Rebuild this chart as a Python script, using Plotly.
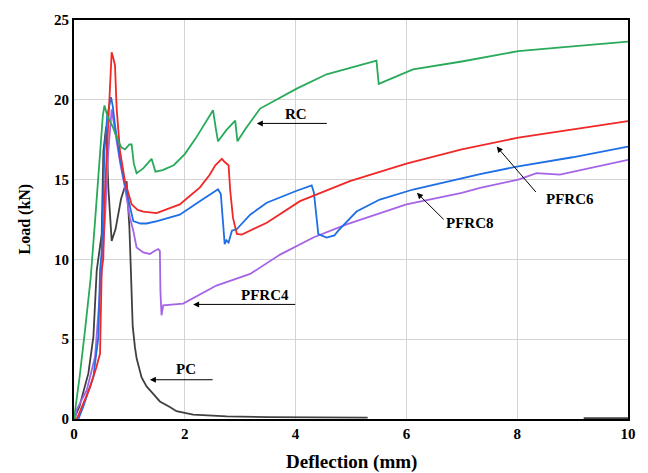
import plotly.graph_objects as go

# ---------------- data ----------------
rc_x = [0, 0.1, 0.2, 0.3, 0.38, 0.46, 0.52, 0.55, 0.6, 0.7, 0.8, 0.86, 0.92, 1.0, 1.04,
        1.08, 1.13, 1.25, 1.4, 1.47, 1.6, 1.8, 2.0, 2.2, 2.4, 2.51, 2.56, 2.6, 2.75, 2.91,
        2.95, 3.1, 3.36, 3.7, 4.02, 4.56, 5.0, 5.46, 5.5, 6.12, 7.0, 7.33, 8.02, 9.0, 10]
rc_y = [0, 2.6, 5.6, 8.8, 12.4, 16.1, 19.0, 19.65, 19.0, 18.3, 17.4, 17.0, 16.9, 17.2, 17.2,
        16.0, 15.4, 15.7, 16.3, 15.5, 15.6, 15.9, 16.6, 17.6, 18.7, 19.35, 18.2, 17.4, 18.1, 18.7,
        17.4, 18.2, 19.45, 20.1, 20.7, 21.6, 22.0, 22.45, 21.0, 21.9, 22.4, 22.6, 23.05, 23.35, 23.65]

pfrc6_x = [0.05, 0.15, 0.29, 0.4, 0.47, 0.5, 0.53, 0.55, 0.59, 0.63, 0.68, 0.71, 0.74, 0.77,
           0.83, 0.92, 1.04, 1.15, 1.25, 1.49, 1.73, 1.91, 2.1, 2.27, 2.45, 2.55, 2.67, 2.72,
           2.79, 2.82, 2.87, 2.94, 3.03, 3.48, 4.08, 4.98, 6.0, 7.0, 8.02, 9.0, 10]
pfrc6_y = [0, 0.8, 2.0, 3.2, 4.1, 9.3, 10.1, 13.6, 16.8, 20.0, 22.98, 22.6, 22.15, 19.45,
           16.8, 14.9, 13.45, 13.1, 13.0, 12.9, 13.2, 13.45, 14.0, 14.5, 15.3, 15.9, 16.3, 16.1,
           15.9, 14.3, 12.6, 11.6, 11.55, 12.3, 13.65, 14.9, 16.0, 16.9, 17.63, 18.15, 18.67]

pfrc8_x = [0.08, 0.17, 0.35, 0.44, 0.47, 0.5, 0.55, 0.6, 0.668, 0.7, 0.74, 0.83, 0.9, 0.98,
           1.07, 1.2, 1.31, 1.5, 1.73, 1.91, 2.27, 2.55, 2.6, 2.65, 2.69, 2.72, 2.75, 2.79,
           2.85, 2.94, 3.18, 3.48, 4.02, 4.29, 4.33, 4.38, 4.41, 4.56, 4.7, 4.77, 5.1, 5.52,
           6.12, 7.33, 8.02, 9.0, 10]
pfrc8_y = [0, 0.8, 2.66, 5.15, 9.3, 10.5, 16.8, 19.0, 20.17, 19.6, 18.4, 16.3, 15.0, 13.85,
           12.4, 12.25, 12.25, 12.4, 12.6, 12.8, 13.65, 14.27, 14.4, 14.1, 12.5, 10.96, 11.2, 11.06,
           11.8, 11.9, 12.8, 13.55, 14.3, 14.64, 14.2, 12.5, 11.58, 11.37, 11.5, 11.8, 13.0, 13.75,
           14.38, 15.35, 15.83, 16.4, 17.07]

pfrc4_x = [0.02, 0.05, 0.23, 0.38, 0.47, 0.5, 0.56, 0.62, 0.68, 0.72, 0.77, 0.83, 0.92, 1.01,
           1.07, 1.13, 1.25, 1.37, 1.46, 1.52, 1.55, 1.56, 1.58, 1.61, 1.97, 2.57, 3.18, 3.72,
           4.32, 4.92, 6.0, 7.0, 7.33, 8.02, 8.35, 8.77, 10]
pfrc4_y = [0, 0.6, 1.8, 3.9, 8.05, 9.3, 12.6, 16.8, 19.4, 18.5, 17.4, 16.1, 14.5, 12.6,
           11.8, 10.75, 10.44, 10.34, 10.54, 10.65, 10.54, 8.0, 6.5, 7.12, 7.23, 8.36, 9.09, 10.3,
           11.37, 12.2, 13.45, 14.17, 14.48, 15.0, 15.4, 15.31, 16.24]

pc_x = [0.0, 0.1, 0.26, 0.35, 0.41, 0.5, 0.53, 0.58, 0.62, 0.68, 0.75, 0.85, 0.95, 0.98,
        1.0, 1.02, 1.04, 1.06, 1.1, 1.13, 1.22, 1.31, 1.45, 1.55, 1.73, 1.85, 2.15, 2.76,
        3.5, 4.1, 5.3, None, 9.2, 10]
pc_y = [0, 0.8, 2.87, 5.15, 9.3, 11.58, 16.76, 18.3, 14.5, 11.16, 11.9, 13.8, 14.9, 13.5,
        12.0, 10.0, 7.5, 5.8, 4.5, 3.8, 2.6, 2.04, 1.5, 1.1, 0.75, 0.49, 0.28, 0.17,
        0.12, 0.1, 0.08, None, 0.05, 0.05]

x_ticks = [0, 2, 4, 6, 8, 10]
y_ticks = [0, 5, 10, 15, 20, 25]

# label text, label position, arrow head, arrow tail
labels = ["RC", "PFRC6", "PFRC8", "PFRC4", "PC"]
label_x = [4.01, 8.95, 7.15, 3.45, 2.03]
label_y = [19.12, 13.77, 12.28, 7.74, 3.14]
head_x = [3.30, 7.63, 6.19, 2.15, 1.37]
head_y = [18.52, 17.07, 14.17, 7.18, 2.46]
tail_x = [4.59, 8.36, 6.70, 4.02, 2.53]
tail_y = [18.52, 14.13, 12.41, 7.18, 2.46]

# ---------------- figure ----------------
series = [
    ("PC", pc_x, pc_y, "rgb(64,64,64)"),
    ("PFRC4", pfrc4_x, pfrc4_y, "rgb(165,100,230)"),
    ("PFRC8", pfrc8_x, pfrc8_y, "rgb(30,110,230)"),
    ("PFRC6", pfrc6_x, pfrc6_y, "rgb(240,40,40)"),
    ("RC", rc_x, rc_y, "rgb(40,170,90)"),
]

fig = go.Figure()
for name, xs, ys, col in series:
    fig.add_trace(go.Scatter(x=xs, y=ys, mode="lines", name=name,
                             line=dict(color=col, width=1.8), connectgaps=False))

serif = "Liberation Serif"
for t, lx, ly, hx, hy, tx, ty in zip(labels, label_x, label_y, head_x, head_y, tail_x, tail_y):
    fig.add_annotation(x=hx, y=hy, ax=tx, ay=ty, xref="x", yref="y", axref="x", ayref="y",
                       text="", showarrow=True, arrowhead=2, arrowsize=1.2, arrowwidth=1,
                       arrowcolor="black")
    fig.add_annotation(x=lx, y=ly, xref="x", yref="y", text=t, showarrow=False,
                       font=dict(family=serif, size=15, color="black", weight="bold"))

# axis titles
fig.add_annotation(x=0.5, y=0, xref="paper", yref="paper", yshift=-43, text="Deflection (mm)",
                   showarrow=False, yanchor="middle",
                   font=dict(family=serif, size=19, color="black", weight="bold"))
fig.add_annotation(x=0, y=0.5, xref="paper", yref="paper", xshift=-50, text="Load (kN)",
                   showarrow=False, textangle=-90, xanchor="center",
                   font=dict(family=serif, size=16, color="black", weight="bold"))

axis_common = dict(showline=True, linecolor="black", linewidth=2, mirror=True,
                   showgrid=True, gridcolor="rgb(212,212,212)", gridwidth=1,
                   zeroline=False, ticks="",
                   tickfont=dict(family=serif, size=15, color="black", weight="bold"))
fig.update_xaxes(range=[0, 10], tickvals=x_ticks, ticktext=[str(v) for v in x_ticks], **axis_common)
fig.update_yaxes(range=[0, 25], tickvals=y_ticks, ticktext=[str(v) for v in y_ticks], **axis_common)

fig.update_layout(width=648, height=473, showlegend=False,
                  margin=dict(l=74, r=20, t=17, b=54),
                  plot_bgcolor="white", paper_bgcolor="white")

fig.write_html("out.html", config={"displayModeBar": False},
               post_script="document.body.style.margin='0';document.body.style.overflow='hidden';")
